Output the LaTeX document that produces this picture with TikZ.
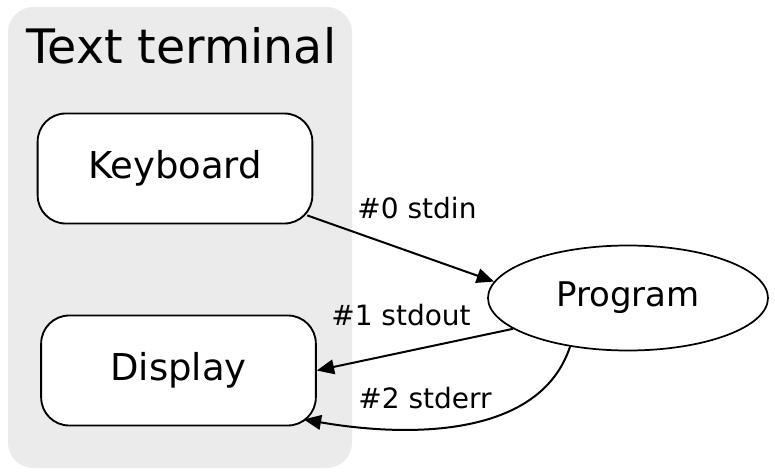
\documentclass[tikz,border=0pt]{standalone}
\usepackage{fontspec}
\setmainfont{DejaVu Sans}
\usetikzlibrary{calc,arrows.meta,shapes.geometric}
\definecolor{termgray}{HTML}{EBEBEB}

\begin{document}
\begin{tikzpicture}[x=0.75pt,y=-0.75pt,
      term/.style={
            rectangle, fill=termgray, rounded corners=19pt,
            minimum width=258pt, minimum height=345.75pt, inner sep=0pt
        },
      device/.style={
            rectangle, draw, fill=white, rounded corners=21pt,
            line width=1.4pt, minimum width=206pt, minimum height=82.5pt,
            inner sep=0pt, font=\fontsize{27.75}{32}\selectfont
        },
      proc/.style={
            ellipse, draw, fill=white, line width=1.3pt,
            minimum width=210pt, minimum height=78.75pt, inner sep=0pt,
            font=\fontsize{25.5}{30}\selectfont
        },
      lbl/.style={anchor=base, inner sep=0pt, font=\fontsize{21}{24}\selectfont},
      flow/.style={-{Triangle[length=13pt,width=11pt]}, line width=1.5pt}
      ]
    \useasboundingbox (0,0) rectangle (775,474);

    \node[term] (term) at (180,237.5) {};
    \node[anchor=base, inner sep=0pt, font=\fontsize{35.6}{40}\selectfont]
      (title) at (181.5,64) {Text terminal};

    \node[device] (kbd) at (175,168.5) {Keyboard};
    \node[device] (disp) at (178.5,370.5) {Display};
    \node[proc] (prog) at (628,298) {Program};

    \node[lbl] (in) at (417,219) {\#0 stdin};
    \node[lbl] (out) at (401,325) {\#1 stdout};
    \node[lbl] (err) at (425,408) {\#2 stderr};

    \draw[flow] ($(kbd.south east)+(-6,-9)$) -- (prog.173);
    \draw[flow] (prog.195) -- (disp.east);
    \draw[flow] (prog.220) .. controls +(-31,94) and +(98,17)
      .. ($(disp.south east)+(-13,-7)$);
  \end{tikzpicture}
\end{document}
